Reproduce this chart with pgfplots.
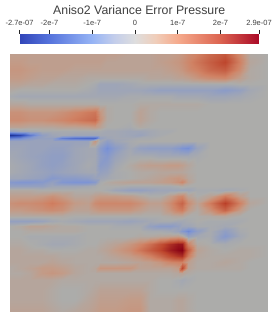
\documentclass[border=0pt]{standalone}
\usepackage{fontspec}
\setmainfont{Liberation Sans}
\usepackage{pgfplots}
\pgfplotsset{compat=1.18}
\pgfplotsset{
 colormap={hm}{rgb255(0pt)=(30,50,150); rgb255(7pt)=(65,95,200); rgb255(17pt)=(125,148,212); rgb255(27pt)=(172,172,170); rgb255(32pt)=(195,155,135); rgb255(37pt)=(208,130,100); rgb255(47pt)=(190,70,45); rgb255(56pt)=(135,0,20)},
 colormap={cb}{rgb255(0pt)=(50,70,185); rgb255(7pt)=(85,115,220); rgb255(17pt)=(150,180,245); rgb255(22pt)=(195,205,235); rgb255(27pt)=(222,222,222); rgb255(32pt)=(240,205,185); rgb255(37pt)=(245,170,140); rgb255(47pt)=(220,100,80); rgb255(56pt)=(170,10,40)}
}
\begin{document}
\begin{tikzpicture}[x=1pt,y=1pt]
\path[use as bounding box] (0,0) rectangle (273,316);
\begin{axis}[at={(19.5pt,272pt)},anchor=south west,scale only axis,width=239.5pt,height=10pt,
 xmin=-2.7,xmax=2.9,ymin=0,ymax=1,ytick=\empty,
 xtick={-2.7,-2,-1,0,1,2,2.9},xticklabels={-2.7e-07,-2e-7,-1e-7,0,1e-7,2e-7,2.9e-07},
 xtick pos=upper,tick align=outside,axis line style={draw=none},
 tick style={black!85,thick},major tick length=4pt,
 xticklabel style={font=\fontsize{7.5}{8}\selectfont,inner sep=1pt,yshift=3pt,text=black!75},
 title={Aniso2 Variance Error Pressure},title style={font=\fontsize{12.3}{14}\selectfont,inner sep=0pt,yshift=13.5pt,text=black!75},
 view={0}{90},colormap name=cb,point meta min=-2.7,point meta max=2.9]
\addplot3[surf,shader=interp,mesh/rows=2,mesh/ordering=x varies] coordinates {
(-2.7,0,-2.7)(-2,0,-2)(-1,0,-1)(-0.5,0,-0.5)(0,0,0)(0.5,0,0.5)(1,0,1)(2,0,2)(2.9,0,2.9)

(-2.7,1,-2.7)(-2,1,-2)(-1,1,-1)(-0.5,1,-0.5)(0,1,0)(0.5,1,0.5)(1,1,1)(2,1,2)(2.9,1,2.9)
};
\end{axis}
\begin{axis}[at={(10pt,5pt)},anchor=south west,scale only axis,width=258pt,height=257pt,hide axis,
 xmin=10,xmax=268,ymin=54,ymax=311,y dir=reverse,view={0}{90},colormap name=hm,point meta min=-27,point meta max=29]
\addplot3[surf,shader=interp,mesh/cols=26,mesh/ordering=x varies] table {
10 54 4
20 54 4
30 54 4
42 54 4
52 54 4
62 54 4
75 54 4
88 54 4
95 54 4
100 54 4
107 54 4
115 54 4
130 54 3
140 54 3
150 54 3
160 54 4
170 54 4
178 54 5
182 54 6
188 54 8
197 54 10
210 54 14
225 54 17
240 54 8
250 54 1
268 54 0
10 62 5
20 62 5
30 62 4
42 62 4
52 62 4
62 62 4
75 62 4
88 62 4
95 62 4
100 62 4
107 62 3
115 62 3
130 62 3
140 62 3
150 62 3
160 62 4
170 62 5
178 62 6
182 62 7
188 62 9
197 62 12
210 62 16
225 62 20
240 62 10
250 62 2
268 62 0
10 70 6
20 70 6
30 70 5
42 70 4
52 70 4
62 70 4
75 70 3
88 70 3
95 70 3
100 70 3
107 70 3
115 70 3
130 70 3
140 70 3
150 70 3
160 70 3
170 70 4
178 70 5
182 70 6
188 70 8
197 70 10
210 70 14
225 70 16
240 70 8
250 70 1
268 70 0
10 78 5
20 78 5
30 78 4
42 78 3
52 78 3
62 78 2
75 78 2
88 78 1
95 78 1
100 78 1
107 78 1
115 78 1
130 78 1
140 78 1
150 78 2
160 78 2
170 78 2
178 78 3
182 78 3
188 78 4
197 78 6
210 78 8
225 78 9
240 78 4
250 78 1
268 78 0
10 84 3
20 84 3
30 84 2
42 84 2
52 84 1
62 84 1
75 84 1
88 84 0
95 84 -1
100 84 -3
107 84 -3
115 84 -3
130 84 -2
140 84 -1
150 84 -1
160 84 -1
170 84 -1
178 84 -1
182 84 -1
188 84 -1
197 84 -1
210 84 -1
225 84 -1
240 84 0
250 84 0
268 84 0
10 90 1
20 90 0
30 90 0
42 90 0
52 90 0
62 90 0
75 90 0
88 90 -1
95 90 -2
100 90 -3
107 90 -3
115 90 -3
130 90 -3
140 90 -3
150 90 -4
160 90 -5
170 90 -5
178 90 -5
182 90 -5
188 90 -5
197 90 -5
210 90 -5
225 90 -7
240 90 -5
250 90 -2
268 90 0
10 96 -1
20 96 -2
30 96 -2
42 96 -2
52 96 -2
62 96 -2
75 96 -2
88 96 -2
95 96 -2
100 96 -2
107 96 -2
115 96 -2
130 96 -1
140 96 -1
150 96 -1
160 96 -1
170 96 -1
178 96 -2
182 96 -2
188 96 -2
197 96 -2
210 96 -3
225 96 -3
240 96 -2
250 96 -1
268 96 0
10 104 2
20 104 2
30 104 1
42 104 1
52 104 1
62 104 1
75 104 1
88 104 1
95 104 1
100 104 0
107 104 0
115 104 0
130 104 0
140 104 1
150 104 1
160 104 1
170 104 1
178 104 1
182 104 1
188 104 1
197 104 1
210 104 0
225 104 0
240 104 0
250 104 0
268 104 0
10 112 7
20 112 7
30 112 6
42 112 6
52 112 6
62 112 7
75 112 9
88 112 11
95 112 12
100 112 6
107 112 1
115 112 0
130 112 0
140 112 3
150 112 1
160 112 0
170 112 0
178 112 0
182 112 0
188 112 0
197 112 0
210 112 0
225 112 0
240 112 0
250 112 0
268 112 0
10 120 8
20 120 8
30 120 7
42 120 7
52 120 8
62 120 9
75 120 11
88 120 13
95 120 14
100 120 7
107 120 1
115 120 0
130 120 0
140 120 3
150 120 1
160 120 0
170 120 0
178 120 0
182 120 0
188 120 0
197 120 0
210 120 0
225 120 0
240 120 0
250 120 0
268 120 0
10 127 3
20 127 3
30 127 2
42 127 2
52 127 2
62 127 3
75 127 3
88 127 4
95 127 5
100 127 3
107 127 0
115 127 0
130 127 -1
140 127 1
150 127 0
160 127 0
170 127 0
178 127 0
182 127 0
188 127 0
197 127 0
210 127 0
225 127 0
240 127 0
250 127 0
268 127 0
10 131 -5
20 131 -3
30 131 -2
42 131 -1
52 131 -1
62 131 -1
75 131 -1
88 131 -1
95 131 -1
100 131 -1
107 131 -2
115 131 -2
130 131 -3
140 131 -3
150 131 -2
160 131 -1
170 131 -1
178 131 0
182 131 0
188 131 0
197 131 0
210 131 0
225 131 0
240 131 0
250 131 0
268 131 0
10 135 -27
20 135 -24
30 135 -15
42 135 -6
52 135 -3
62 135 -2
75 135 -3
88 135 -3
95 135 -3
100 135 -2
107 135 -2
115 135 -2
130 135 -3
140 135 -4
150 135 -2
160 135 -1
170 135 0
178 135 0
182 135 0
188 135 0
197 135 0
210 135 0
225 135 0
240 135 0
250 135 0
268 135 0
10 138 -14
20 138 -12
30 138 -8
42 138 -5
52 138 -5
62 138 -14
75 138 -17
88 138 -18
95 138 -18
100 138 -5
107 138 -3
115 138 -2
130 138 -2
140 138 -1
150 138 -1
160 138 0
170 138 0
178 138 0
182 138 0
188 138 0
197 138 0
210 138 0
225 138 0
240 138 0
250 138 0
268 138 0
10 141 -4
20 141 -4
30 141 -4
42 141 -4
52 141 -4
62 141 -4
75 141 -4
88 141 -4
95 141 6
100 141 -2
107 141 -6
115 141 -3
130 141 -1
140 141 0
150 141 0
160 141 0
170 141 0
178 141 0
182 141 0
188 141 0
197 141 0
210 141 0
225 141 0
240 141 0
250 141 0
268 141 0
10 148 -3
20 148 -3
30 148 -4
42 148 -4
52 148 -5
62 148 -5
75 148 -3
88 148 -2
95 148 -2
100 148 -7
107 148 -11
115 148 -7
130 148 -2
140 148 -5
150 148 -6
160 148 -6
170 148 -6
178 148 -8
182 148 -10
188 148 -11
197 148 -4
210 148 0
225 148 0
240 148 0
250 148 0
268 148 0
10 156 -2
20 156 -3
30 156 -4
42 156 -5
52 156 -6
62 156 -6
75 156 -3
88 156 -2
95 156 -2
100 156 -6
107 156 -8
115 156 -4
130 156 -1
140 156 -1
150 156 -1
160 156 -2
170 156 -2
178 156 -2
182 156 -2
188 156 -2
197 156 -1
210 156 0
225 156 0
240 156 0
250 156 0
268 156 0
10 165 -1
20 165 -2
30 165 -3
42 165 -5
52 165 -6
62 165 -5
75 165 -3
88 165 -1
95 165 -2
100 165 -7
107 165 -6
115 165 -2
130 165 1
140 165 3
150 165 4
160 165 4
170 165 5
178 165 5
182 165 4
188 165 2
197 165 0
210 165 0
225 165 0
240 165 0
250 165 0
268 165 0
10 172 -1
20 172 -2
30 172 -3
42 172 -4
52 172 -5
62 172 -4
75 172 -3
88 172 -2
95 172 -2
100 172 -5
107 172 -4
115 172 -1
130 172 0
140 172 1
150 172 1
160 172 2
170 172 2
178 172 2
182 172 2
188 172 1
197 172 0
210 172 0
225 172 0
240 172 0
250 172 0
268 172 0
10 178 -3
20 178 -3
30 178 -4
42 178 -5
52 178 -8
62 178 -7
75 178 -7
88 178 -6
95 178 -4
100 178 -3
107 178 -2
115 178 -1
130 178 0
140 178 1
150 178 2
160 178 3
170 178 5
178 178 6
182 178 5
188 178 2
197 178 0
210 178 0
225 178 0
240 178 0
250 178 0
268 178 0
10 182 -8
20 182 -9
30 182 -9
42 182 -8
52 182 -5
62 182 -9
75 182 -10
88 182 -10
95 182 -8
100 182 -1
107 182 1
115 182 2
130 182 3
140 182 3
150 182 3
160 182 4
170 182 5
178 182 7
182 182 9
188 182 3
197 182 0
210 182 0
225 182 0
240 182 0
250 182 0
268 182 0
10 186 -5
20 186 -5
30 186 -5
42 186 -5
52 186 -3
62 186 -3
75 186 -3
88 186 -2
95 186 -1
100 186 0
107 186 0
115 186 0
130 186 -1
140 186 -1
150 186 -1
160 186 -1
170 186 -1
178 186 0
182 186 1
188 186 0
197 186 0
210 186 0
225 186 0
240 186 0
250 186 0
268 186 0
10 190 1
20 190 1
30 190 1
42 190 0
52 190 0
62 190 0
75 190 0
88 190 0
95 190 0
100 190 0
107 190 -1
115 190 -3
130 190 -5
140 190 -5
150 190 -4
160 190 -3
170 190 -3
178 190 -3
182 190 -3
188 190 -3
197 190 -1
210 190 -1
225 190 -2
240 190 -1
250 190 0
268 190 0
10 196 4
20 196 4
30 196 4
42 196 5
52 196 7
62 196 5
75 196 2
88 196 2
95 196 4
100 196 5
107 196 5
115 196 5
130 196 4
140 196 2
150 196 0
160 196 0
170 196 4
178 196 8
182 196 9
188 196 3
197 196 0
210 196 3
225 196 11
240 196 4
250 196 0
268 196 0
10 203 7
20 203 8
30 203 8
42 203 9
52 203 11
62 203 9
75 203 5
88 203 4
95 203 8
100 203 9
107 203 9
115 203 9
130 203 9
140 203 7
150 203 4
160 203 4
170 203 8
178 203 13
182 203 15
188 203 8
197 203 3
210 203 11
225 203 21
240 203 10
250 203 2
268 203 0
10 210 5
20 210 5
30 210 6
42 210 7
52 210 8
62 210 7
75 210 3
88 210 3
95 210 5
100 210 6
107 210 6
115 210 6
130 210 6
140 210 4
150 210 2
160 210 2
170 210 6
178 210 10
182 210 11
188 210 5
197 210 1
210 210 7
225 210 15
240 210 5
250 210 0
268 210 0
10 216 1
20 216 1
30 216 1
42 216 1
52 216 1
62 216 1
75 216 0
88 216 0
95 216 0
100 216 0
107 216 0
115 216 0
130 216 0
140 216 0
150 216 0
160 216 0
170 216 1
178 216 2
182 216 2
188 216 0
197 216 0
210 216 1
225 216 2
240 216 0
250 216 0
268 216 0
10 221 -5
20 221 -5
30 221 -5
42 221 -4
52 221 -2
62 221 -1
75 221 -2
88 221 -3
95 221 -3
100 221 -3
107 221 -3
115 221 -3
130 221 -4
140 221 -3
150 221 -2
160 221 -1
170 221 -1
178 221 -2
182 221 -2
188 221 -1
197 221 0
210 221 -1
225 221 -1
240 221 -1
250 221 0
268 221 0
10 226 0
20 226 1
30 226 3
42 226 3
52 226 2
62 226 1
75 226 1
88 226 0
95 226 0
100 226 0
107 226 0
115 226 -1
130 226 -1
140 226 -1
150 226 -5
160 226 -7
170 226 -7
178 226 -5
182 226 -3
188 226 -3
197 226 -1
210 226 -1
225 226 -2
240 226 0
250 226 0
268 226 0
10 231 0
20 231 0
30 231 1
42 231 1
52 231 1
62 231 1
75 231 1
88 231 0
95 231 0
100 231 0
107 231 0
115 231 0
130 231 0
140 231 0
150 231 -1
160 231 -1
170 231 -2
178 231 -4
182 231 -8
188 231 -12
197 231 -6
210 231 -1
225 231 -6
240 231 -1
250 231 0
268 231 0
10 236 0
20 236 0
30 236 -1
42 236 -1
52 236 -1
62 236 -1
75 236 -1
88 236 0
95 236 0
100 236 0
107 236 0
115 236 0
130 236 0
140 236 1
150 236 1
160 236 2
170 236 3
178 236 4
182 236 2
188 236 -5
197 236 -2
210 236 -1
225 236 -8
240 236 -2
250 236 0
268 236 0
10 244 1
20 244 1
30 244 0
42 244 -1
52 244 -2
62 244 -2
75 244 -1
88 244 0
95 244 0
100 244 1
107 244 2
115 244 3
130 244 6
140 244 9
150 244 13
160 244 18
170 244 23
178 244 26
182 244 26
188 244 10
197 244 1
210 244 0
225 244 -1
240 244 0
250 244 0
268 244 0
10 250 2
20 250 2
30 250 1
42 250 1
52 250 0
62 250 0
75 250 0
88 250 1
95 250 1
100 250 2
107 250 3
115 250 5
130 250 8
140 250 12
150 250 16
160 250 20
170 250 25
178 250 28
182 250 29
188 250 16
197 250 3
210 250 1
225 250 0
240 250 1
250 250 1
268 250 0
10 256 2
20 256 2
30 256 2
42 256 2
52 256 2
62 256 1
75 256 1
88 256 1
95 256 1
100 256 1
107 256 2
115 256 3
130 256 5
140 256 7
150 256 10
160 256 14
170 256 19
178 256 22
182 256 23
188 256 11
197 256 2
210 256 1
225 256 1
240 256 1
250 256 1
268 256 0
10 262 2
20 262 2
30 262 2
42 262 2
52 262 3
62 262 2
75 262 1
88 262 1
95 262 1
100 262 1
107 262 1
115 262 1
130 262 2
140 262 3
150 262 4
160 262 6
170 262 9
178 262 10
182 262 10
188 262 4
197 262 1
210 262 1
225 262 2
240 262 1
250 262 0
268 262 0
10 268 1
20 268 2
30 268 3
42 268 5
52 268 5
62 268 4
75 268 2
88 268 1
95 268 2
100 268 6
107 268 6
115 268 6
130 268 6
140 268 3
150 268 3
160 268 3
170 268 3
178 268 5
182 268 20
188 268 3
197 268 1
210 268 1
225 268 1
240 268 1
250 268 0
268 268 0
10 273 1
20 273 1
30 273 2
42 273 5
52 273 6
62 273 5
75 273 2
88 273 1
95 273 1
100 273 1
107 273 1
115 273 1
130 273 1
140 273 1
150 273 1
160 273 1
170 273 1
178 273 2
182 273 3
188 273 1
197 273 0
210 273 0
225 273 0
240 273 0
250 273 0
268 273 0
10 280 2
20 280 2
30 280 2
42 280 2
52 280 2
62 280 1
75 280 1
88 280 1
95 280 1
100 280 1
107 280 1
115 280 1
130 280 1
140 280 1
150 280 1
160 280 0
170 280 0
178 280 -1
182 280 -2
188 280 -1
197 280 0
210 280 0
225 280 0
240 280 0
250 280 0
268 280 0
10 290 2
20 290 2
30 290 2
42 290 2
52 290 1
62 290 0
75 290 0
88 290 1
95 290 2
100 290 3
107 290 3
115 290 3
130 290 3
140 290 3
150 290 1
160 290 0
170 290 0
178 290 0
182 290 0
188 290 0
197 290 0
210 290 0
225 290 0
240 290 0
250 290 0
268 290 0
10 300 2
20 300 2
30 300 2
42 300 2
52 300 1
62 300 0
75 300 0
88 300 2
95 300 3
100 300 4
107 300 4
115 300 4
130 300 5
140 300 5
150 300 1
160 300 1
170 300 1
178 300 2
182 300 2
188 300 1
197 300 0
210 300 0
225 300 0
240 300 0
250 300 0
268 300 0
10 311 3
20 311 3
30 311 3
42 311 3
52 311 2
62 311 1
75 311 2
88 311 3
95 311 4
100 311 5
107 311 5
115 311 5
130 311 6
140 311 6
150 311 1
160 311 1
170 311 1
178 311 2
182 311 2
188 311 1
197 311 0
210 311 0
225 311 0
240 311 0
250 311 0
268 311 0
};
\end{axis}
\end{tikzpicture}
\end{document}
